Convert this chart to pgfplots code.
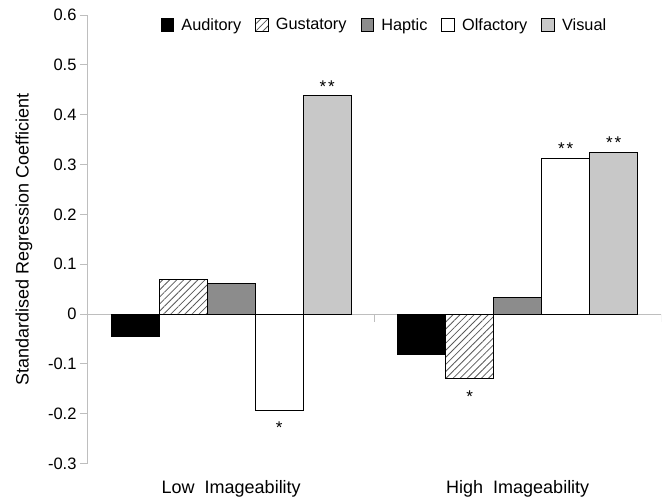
\documentclass[border=0pt]{standalone}
\usepackage{fontspec}
\setmainfont{Liberation Sans}
\usepackage{pgfplots}
\pgfplotsset{compat=1.18}
\usetikzlibrary{patterns.meta}
\definecolor{axgray}{RGB}{190,190,190}
\definecolor{hapgray}{RGB}{140,140,140}
\definecolor{visgray}{RGB}{200,200,200}
\newcommand{\dstar}{*\kern2pt*}
\newcommand{\sneg}{\raisebox{-27pt}[0pt][0pt]{*}}
\begin{document}
\begin{tikzpicture}
\useasboundingbox (-88pt,-35.5pt) rectangle (578pt,463.5pt);
\begin{axis}[
  scale only axis, width=573pt, height=448.5pt,
  xmin=-0.5, xmax=1.5, ymin=-0.3, ymax=0.6,
  axis x line*=bottom, axis y line*=left,
  x axis line style={draw=none},
  y axis line style={draw=axgray, line width=1pt},
  tick align=outside, major tick length=8pt,
  ytick={-0.3,-0.2,-0.1,0,0.1,0.2,0.3,0.4,0.5,0.6},
  ytick style={draw=axgray, line width=1pt},
  yticklabel style={font=\fontsize{16.5}{19}\selectfont, /pgf/number format/fixed, /pgf/number format/precision=1, /pgf/number format/assume math mode=true},
  xtick={0,1}, xticklabels={Low\ \ Imageability,High\ \ Imageability},
  xtick style={draw=none},
  xticklabel style={font=\fontsize{18}{21}\selectfont, anchor=base, yshift=-22pt},
  ylabel={Standardised Regression Coefficient},
  ylabel style={font=\fontsize{18}{21}\selectfont, at={(axis description cs:-0.1117,0.5)}, anchor=center},
  ybar=0pt, bar width=48pt,
  nodes near coords, point meta=explicit symbolic,
  every node near coord/.append style={font=\fontsize{17}{20}\selectfont, inner sep=3pt},
  legend image code/.code={\draw[#1] (0pt,-6.35pt) rectangle (12.7pt,6.35pt);},
  legend style={draw=none, fill=none, at={(axis description cs:0.1269,0.9777)}, anchor=west,
    inner sep=0pt, outer sep=0pt, legend columns=-1, font=\fontsize{16.3}{19}\selectfont,
    nodes={inner sep=0pt},
    /tikz/every odd column/.style={column sep=7pt},
    /tikz/every even column/.style={column sep=14pt}},
  legend cell align=left,
]
\draw[axgray, line width=1pt] (axis cs:-0.5,0) -- (axis cs:1.5,0);
\draw[axgray, line width=1pt] (axis cs:0.5,0) -- ++(0pt,-8pt);
\draw[axgray, line width=1pt] (axis cs:1.5,0) -- ++(0pt,-8pt);
\addplot[fill=black, draw=black, line width=1pt] coordinates {(0,-0.0456) [\null] (1,-0.0803) [\null]};
\addplot[pattern={Lines[angle=45,distance=5pt,line width=0.8pt]}, pattern color=black!65, draw=black, line width=1pt] coordinates {(0,0.0688) [\null] (1,-0.1304) [\sneg]};
\addplot[fill=hapgray, draw=black, line width=1pt] coordinates {(0,0.0616) [\null] (1,0.0341) [\null]};
\addplot[fill=white, draw=black, line width=1pt] coordinates {(0,-0.1927) [\sneg] (1,0.3125) [\dstar]};
\addplot[fill=visgray, draw=black, line width=1pt] coordinates {(0,0.438) [\dstar] (1,0.325) [\dstar]};
\legend{Auditory,Gustatory,Haptic,Olfactory,Visual}
\end{axis}
\end{tikzpicture}
\end{document}
